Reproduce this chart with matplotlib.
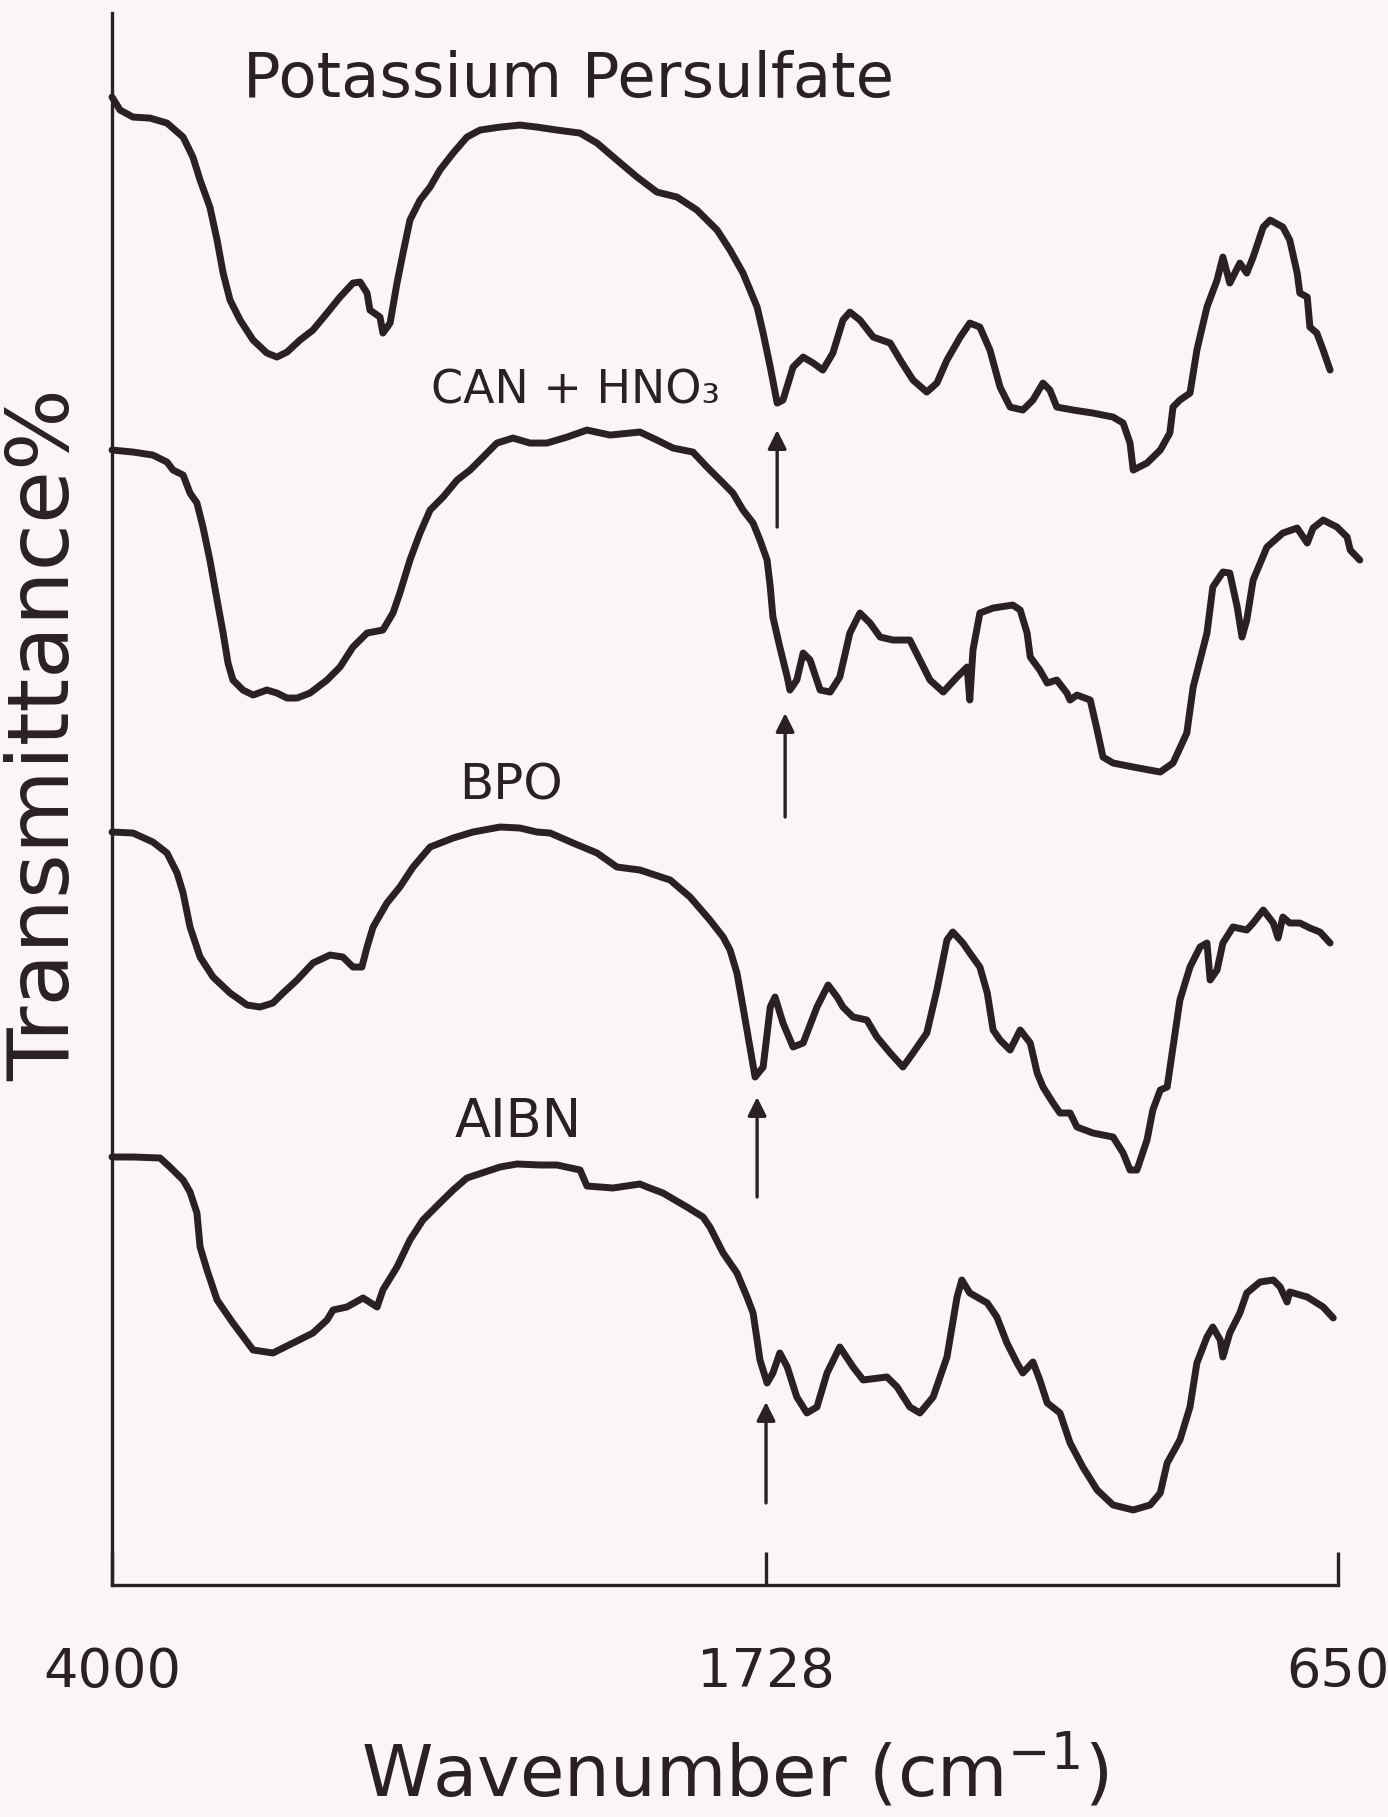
import numpy as np
import matplotlib
matplotlib.use("Agg")
import matplotlib.pyplot as plt

# wavenumber (cm-1) / transmittance (arbitrary, curves offset)
pp_wn = [4000, 3972, 3927, 3868, 3809, 3753, 3719, 3694, 3660, 3635, 3614, 3590, 3555, 3510,
         3462, 3427, 3392, 3347, 3302, 3253, 3208, 3163, 3138, 3114, 3104, 3069, 3059, 3034,
         3010, 2989, 2965, 2930, 2895, 2861, 2815, 2767, 2722, 2652, 2583, 2524, 2454, 2374,
         2315, 2246, 2176, 2107, 2037, 1968, 1898, 1853, 1808, 1759, 1738, 1720, 1707, 1696,
         1677, 1658, 1639, 1621, 1602, 1583, 1570, 1551, 1526, 1494, 1475, 1451, 1425, 1406,
         1387, 1362, 1344, 1325, 1306, 1287, 1268, 1244, 1225, 1206, 1193, 1180, 1149, 1112,
         1074, 1055, 1042, 1036, 1010, 985, 967, 961, 948, 929, 916, 897, 878, 867, 854, 835,
         822, 810, 791, 778, 754, 741, 727, 722, 708, 703, 690, 678, 665]
pp_t = [148.8, 147.5, 146.8, 146.7, 146.2, 144.8, 142.8, 140.5, 137.8, 134.5, 131.2, 128.5,
        126.5, 124.5, 123.2, 122.8, 123.3, 124.5, 125.5, 127.2, 128.8, 130.2, 130.3, 129.2,
        127.5, 126.8, 125.2, 126.2, 130.2, 133.2, 136.5, 138.5, 139.8, 141.5, 143.2, 144.8,
        145.5, 145.8, 146.0, 145.8, 145.5, 145.2, 144.2, 142.5, 140.8, 139.3, 138.8, 137.5,
        135.5, 133.5, 131.2, 127.8, 125.2, 121.8, 118.2, 118.5, 121.8, 122.8, 122.2, 121.5,
        123.2, 126.5, 127.3, 126.5, 124.8, 124.2, 122.5, 120.5, 119.3, 120.2, 122.5, 124.8,
        126.2, 125.8, 123.5, 119.8, 117.8, 117.5, 118.5, 120.2, 119.5, 117.8, 117.5, 117.2,
        116.8, 116.2, 114.2, 111.5, 112.2, 113.5, 115.2, 117.8, 118.5, 119.2, 123.5, 127.8,
        130.5, 132.8, 130.2, 132.2, 131.2, 132.8, 135.8, 136.5, 135.8, 134.5, 131.2, 129.2,
        128.8, 125.8, 125.2, 123.5, 121.5]

can_wn = [4000, 3927, 3858, 3809, 3788, 3753, 3729, 3705, 3684, 3660, 3635, 3614, 3597, 3580,
          3545, 3510, 3462, 3427, 3392, 3357, 3312, 3253, 3208, 3163, 3114, 3059, 3024, 3000,
          2965, 2930, 2895, 2850, 2801, 2756, 2711, 2663, 2607, 2548, 2489, 2419, 2350, 2270,
          2166, 2107, 2051, 1982, 1933, 1877, 1843, 1808, 1773, 1749, 1726, 1720, 1715, 1702,
          1688, 1683, 1670, 1658, 1645, 1626, 1607, 1589, 1570, 1551, 1532, 1513, 1489, 1457,
          1438, 1419, 1394, 1368, 1349, 1344, 1338, 1325, 1300, 1263, 1249, 1236, 1230, 1212,
          1198, 1180, 1161, 1155, 1142, 1117, 1104, 1093, 1074, 1036, 985, 961, 935, 923, 910,
          897, 886, 867, 854, 840, 831, 822, 810, 784, 754, 727, 708, 697, 678, 652, 633, 627,
          609]
can_t = [113.5, 113.3, 113.0, 112.3, 111.5, 111.0, 109.2, 108.2, 105.8, 102.5, 98.5, 95.2,
         92.2, 90.5, 89.5, 89.0, 89.5, 89.2, 88.7, 88.7, 89.2, 90.5, 91.8, 93.8, 95.2, 95.5,
         97.2, 99.2, 102.5, 105.2, 107.5, 108.8, 110.5, 111.5, 112.8, 114.2, 114.7, 114.2,
         114.2, 114.8, 115.5, 115.0, 115.3, 114.5, 113.7, 113.3, 111.8, 110.2, 109.2, 107.5,
         106.2, 104.5, 102.5, 99.8, 96.8, 93.8, 90.8, 89.5, 90.5, 93.2, 92.5, 89.5, 89.3, 90.8,
         95.2, 97.2, 96.2, 94.8, 94.5, 94.5, 92.5, 90.5, 89.3, 90.8, 91.8, 88.5, 93.5, 97.2,
         97.7, 98.0, 97.5, 95.2, 92.8, 91.5, 90.2, 90.5, 89.2, 88.5, 89.0, 88.5, 85.5, 82.8,
         82.2, 81.8, 81.3, 82.2, 85.2, 89.8, 92.5, 95.2, 99.8, 101.3, 101.2, 97.8, 94.8, 96.5,
         100.5, 103.8, 105.2, 105.7, 104.2, 105.7, 106.5, 105.8, 104.8, 103.5, 102.5]

bpo_wn = [4000, 3927, 3858, 3809, 3774, 3753, 3729, 3694, 3649, 3590, 3531, 3486, 3441, 3406,
          3357, 3302, 3243, 3198, 3163, 3132, 3114, 3093, 3045, 3000, 2954, 2895, 2815, 2746,
          2652, 2583, 2524, 2478, 2398, 2315, 2246, 2166, 2061, 1992, 1923, 1877, 1853, 1829,
          1808, 1784, 1766, 1738, 1720, 1711, 1696, 1677, 1658, 1632, 1611, 1594, 1583, 1564,
          1538, 1519, 1494, 1470, 1451, 1425, 1406, 1387, 1376, 1357, 1344, 1325, 1311, 1300,
          1287, 1268, 1249, 1230, 1217, 1206, 1187, 1174, 1155, 1142, 1112, 1074, 1055, 1042,
          1029, 1010, 999, 985, 972, 961, 948, 929, 910, 897, 891, 878, 867, 848, 822, 810, 791,
          772, 763, 754, 741, 722, 703, 684, 665]
bpo_t = [75.3, 75.2, 74.3, 73.2, 71.2, 69.2, 65.8, 62.8, 60.8, 59.2, 58.0, 57.8, 58.2, 59.2,
         60.5, 62.2, 63.0, 62.8, 61.8, 61.8, 63.8, 65.8, 68.2, 69.8, 71.8, 73.8, 74.7, 75.3,
         75.8, 75.7, 75.3, 75.2, 74.2, 73.2, 71.8, 71.5, 70.5, 68.8, 66.5, 64.8, 63.5, 61.2,
         57.8, 53.8, 50.8, 51.8, 57.8, 58.8, 56.2, 53.8, 54.2, 57.8, 60.0, 58.8, 57.8, 56.8,
         56.5, 54.8, 53.2, 51.8, 53.2, 55.2, 59.5, 64.5, 65.3, 64.2, 63.2, 61.8, 59.2, 55.5,
         54.5, 53.5, 55.5, 54.2, 51.2, 49.8, 48.2, 47.2, 47.2, 45.8, 45.2, 44.8, 43.2, 41.5,
         41.5, 44.5, 47.5, 49.5, 49.8, 53.8, 58.5, 61.8, 63.8, 64.2, 60.5, 61.5, 64.2, 65.8,
         65.5, 66.2, 67.5, 66.2, 64.7, 66.8, 66.2, 66.2, 65.7, 65.3, 64.2]

aibn_wn = [4000, 3927, 3833, 3799, 3753, 3729, 3705, 3694, 3670, 3635, 3580, 3510, 3441, 3371,
           3302, 3253, 3232, 3184, 3128, 3079, 3059, 3010, 2965, 2920, 2861, 2815, 2767, 2652,
           2593, 2513, 2454, 2374, 2350, 2260, 2166, 2141, 2086, 2003, 1947, 1923, 1877, 1829,
           1794, 1773, 1759, 1749, 1726, 1715, 1702, 1688, 1670, 1651, 1632, 1613, 1589, 1564,
           1545, 1500, 1481, 1457, 1438, 1413, 1387, 1368, 1359, 1344, 1311, 1293, 1274, 1255,
           1244, 1225, 1212, 1198, 1174, 1155, 1131, 1104, 1074, 1036, 1004, 985, 972, 948, 929,
           916, 897, 886, 872, 867, 854, 835, 822, 797, 772, 759, 746, 741, 708, 678, 659]
aibn_t = [42.8, 42.8, 42.7, 41.8, 40.5, 39.3, 37.2, 33.8, 31.5, 28.5, 26.2, 23.5, 23.2, 24.2,
          25.2, 26.5, 27.5, 27.8, 28.7, 27.8, 29.5, 31.8, 34.5, 36.5, 38.2, 39.5, 40.7, 41.8,
          42.1, 42.0, 42.0, 41.5, 39.9, 39.7, 40.1, 39.8, 39.2, 37.8, 36.8, 35.8, 33.2, 31.2,
          28.8, 27.2, 24.5, 22.5, 20.2, 21.2, 23.2, 21.8, 18.8, 17.2, 17.8, 21.2, 23.8, 21.8,
          20.5, 20.8, 19.8, 17.8, 17.2, 18.8, 22.8, 28.8, 30.5, 29.2, 28.2, 26.8, 24.2, 22.2,
          21.2, 22.3, 20.5, 18.2, 17.2, 14.2, 11.8, 9.5, 8.0, 7.5, 8.0, 9.2, 12.2, 14.5, 17.8,
          22.2, 24.8, 25.8, 24.5, 22.8, 25.2, 27.2, 29.2, 30.3, 30.5, 29.8, 28.3, 29.3, 28.8,
          27.8, 26.7]

# arrows marking the carbonyl band, one under each spectrum
arrow_wn = [1707, 1692, 1759, 1728]
arrow_tip = [115.5, 87.2, 48.8, 18.3]
arrow_tail = [105.8, 76.8, 38.8, 8.2]

labels = ["Potassium Persulfate", "CAN + HNO₃", "BPO", "AIBN"]
tick_wn = [4000, 1728, 650]

ink = "#2b2024"
paper = "#faf6f7"

# the chart paper uses one scale above 1728 cm-1 and a wider one below
W_LO, W_MID, W_HI = 650.0, 1728.0, 4000.0
S_LO, S_HI = 572.0, 654.0


def fwd(x):
    x = np.asarray(x, dtype=float)
    return np.where(x <= W_MID, (x - W_LO) / (W_MID - W_LO) * S_LO,
                    S_LO + (x - W_MID) / (W_HI - W_MID) * S_HI)


def inv(p):
    p = np.asarray(p, dtype=float)
    return np.where(p <= S_LO, W_LO + p / S_LO * (W_MID - W_LO),
                    W_MID + (p - S_LO) / S_HI * (W_HI - W_MID))


fig = plt.figure(figsize=(13.88, 18.17), dpi=100, facecolor=paper)
ax = fig.add_axes([0.0807, 0.1277, 0.8833, 0.8651])
ax.set_facecolor(paper)
ax.set_xscale("function", functions=(fwd, inv))
ax.set_xlim(4000, 650)
ax.set_ylim(0, 157.2)

for wn, t in [(pp_wn, pp_t), (can_wn, can_t), (bpo_wn, bpo_t), (aibn_wn, aibn_t)]:
    ax.plot(wn, t, color=ink, lw=5.0, solid_joinstyle="round", solid_capstyle="round",
            clip_on=False)

for wn, tip, tail in zip(arrow_wn, arrow_tip, arrow_tail):
    ax.annotate("", xy=(wn, tip), xytext=(wn, tail),
                arrowprops=dict(arrowstyle="-|>", color=ink, lw=2.4, mutation_scale=28,
                                shrinkA=0, shrinkB=0))

lab_pos = [(0.372, 0.9466, 45), (0.378, 0.7519, 33), (0.325, 0.4994, 36), (0.331, 0.285, 38)]
for txt, (lx, ly, fs) in zip(labels, lab_pos):
    ax.text(lx, ly, txt, transform=ax.transAxes, ha="center", va="baseline",
            fontsize=fs, color=ink)

for s in ["top", "right"]:
    ax.spines[s].set_visible(False)
for s in ["left", "bottom"]:
    ax.spines[s].set_linewidth(2.4)
    ax.spines[s].set_color(ink)

ax.set_yticks([])
ax.set_xticks(tick_wn)
ax.set_xticklabels([str(v) for v in tick_wn], fontsize=39, color=ink)
ax.xaxis.set_minor_locator(matplotlib.ticker.NullLocator())
ax.tick_params(axis="x", direction="in", length=24, width=2.4, color=ink, pad=44)

ax.set_xlabel("Wavenumber (cm$^{-1}$)", fontsize=52, color=ink, va="center")
ax.xaxis.set_label_coords(0.508, -0.118)
ax.set_ylabel("Transmittance%", fontsize=62, color=ink, va="center")
ax.yaxis.set_label_coords(-0.054, 0.541)

fig.savefig("out.png", dpi=100, facecolor=paper)
